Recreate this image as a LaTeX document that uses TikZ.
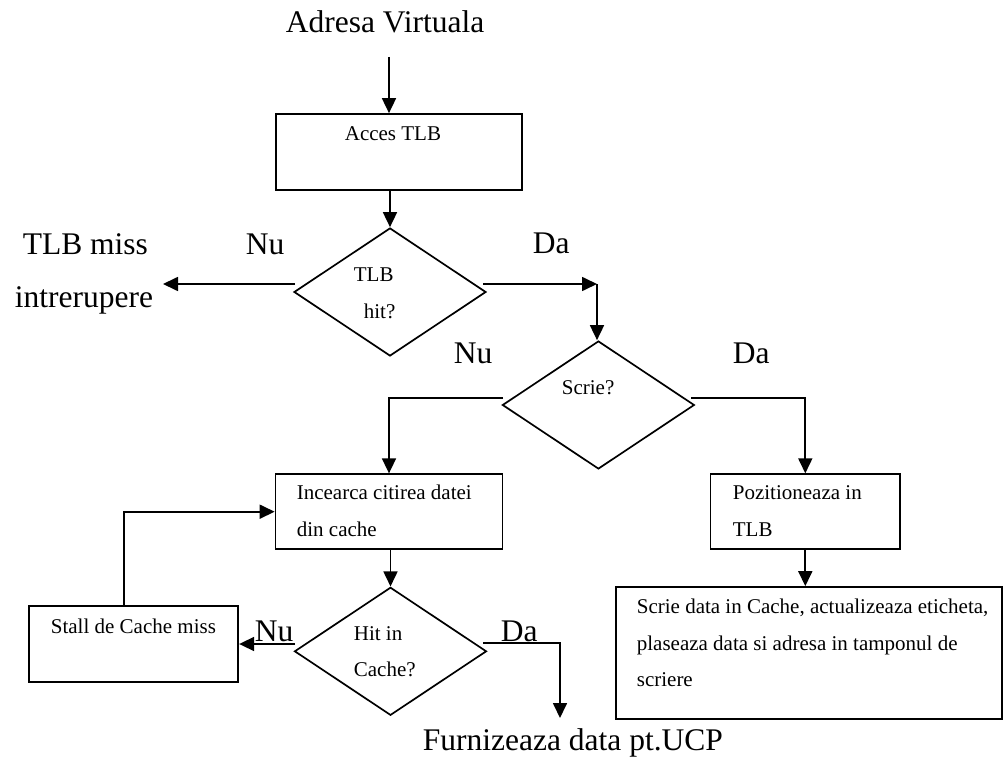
\documentclass[tikz,border=0pt]{standalone}
\usepackage{fontspec}
\setmainfont{Liberation Serif}
\usetikzlibrary{arrows.meta,shapes.geometric,calc}
\begin{document}
\begin{tikzpicture}[x=1pt,y=-1pt,
  line width=1.7pt,
  arr/.style={-{Triangle[length=15pt,width=14pt]}},
  boxnode/.style={draw, rectangle, inner sep=0pt},
  dia/.style={draw, shape=diamond, inner sep=0pt, minimum width=192pt, minimum height=128pt},
  bigtxt/.style={anchor=base west, inner sep=0pt, font=\fontsize{31.5}{36}\selectfont},
  smalltxt/.style={anchor=base west, inner sep=0pt, font=\fontsize{21}{25}\selectfont}]
\useasboundingbox (0,0) rectangle (1005,760);

% boxes
\node[boxnode, minimum width=246pt, minimum height=76pt] (acces) at (399,152) {};
\node[boxnode, minimum width=227pt, minimum height=75pt] (incearca) at (389,511.7) {};
\node[boxnode, minimum width=189.5pt, minimum height=75pt] (poz) at (805.3,511.7) {};
\node[boxnode, minimum width=386pt, minimum height=132pt] (bigbox) at (809,653) {};
\node[boxnode, minimum width=209pt, minimum height=76pt] (stall) at (133.8,644.2) {};

% diamonds
\node[dia] (tlb) at (390,292) {};
\node[dia] (scrie) at (598.4,405) {};
\node[dia] (hit) at (390.5,651.3) {};

% texts
\node[bigtxt] (adr) at (285,33) {Adresa Virtuala};
\node[bigtxt] (miss) at (22,254) {TLB miss};
\node[bigtxt] (intr) at (14,307) {intrerupere};
\node[bigtxt] (nu1) at (245,254) {Nu};
\node[bigtxt] (da1) at (532,253) {Da};
\node[bigtxt] (nu2) at (453,363) {Nu};
\node[bigtxt] (da2) at (732,363) {Da};
\node[bigtxt] (nu3) at (254,641) {Nu};
\node[bigtxt] (da3) at (500,641) {Da};
\node[bigtxt] (furn) at (422,750) {Furnizeaza data pt.UCP};

\node[smalltxt] (tacc) at (344,140) {Acces TLB};
\node[smalltxt] (ttlb1) at (353,281) {TLB};
\node[smalltxt] (ttlb2) at (363,318) {hit?};
\node[smalltxt] (tscr) at (561,394) {Scrie?};
\node[smalltxt] (tinc1) at (296,499.3) {Incearca citirea datei};
\node[smalltxt] (tinc2) at (296,536) {din cache};
\node[smalltxt] (tpoz1) at (732,499.3) {Pozitioneaza in};
\node[smalltxt] (tpoz2) at (732,536) {TLB};
\node[smalltxt] (thit1) at (353,640) {Hit in};
\node[smalltxt] (thit2) at (353,676.7) {Cache?};
\node[smalltxt] (tstall) at (50,633.3) {Stall de Cache miss};
\node[smalltxt] (tbig1) at (636,613.3) {Scrie data in Cache, actualizeaza eticheta,};
\node[smalltxt] (tbig2) at (636,650) {plaseaza data si adresa in tamponul de};
\node[smalltxt] (tbig3) at (636,686.7) {scriere};

% connector coordinates
\coordinate (s0) at (389,57);
\coordinate (tlbL) at (295,284);
\coordinate (tlbout) at (163,284);
\coordinate (tlbR) at (483,284);
\coordinate (c1) at (597,284);
\coordinate (scrR) at (691,398);
\coordinate (scrL) at (503,398);
\coordinate (hitL) at (295,644);
\coordinate (hitR) at (483,643.3);
\coordinate (c2) at (560,643.3);
\coordinate (fz) at (560,718);
\coordinate (loop) at (124,606);

% connectors
\draw[arr] (s0) -- (s0 |- acces.north);
\draw[arr] (tlb.north |- acces.south) -- (tlb.north);
\draw[arr] (tlbL) -- (tlbout);
\draw[arr] (tlbR) -- (c1);
\draw[arr] (c1) -- (c1 |- scrie.north);
\draw[arr] (scrR) -| (poz.north);
\draw[arr] (scrL) -| (incearca.north);
\draw[arr] (hit.north |- incearca.south) -- (hit.north);
\draw[arr] (hitL) -- (hitL -| stall.east);
\draw[arr] (loop |- stall.north) |- (incearca.west);
\draw[arr] (hitR) -- (c2) -- (fz);
\draw[arr] (poz.south) -- (poz.south |- bigbox.north);
\end{tikzpicture}
\end{document}
